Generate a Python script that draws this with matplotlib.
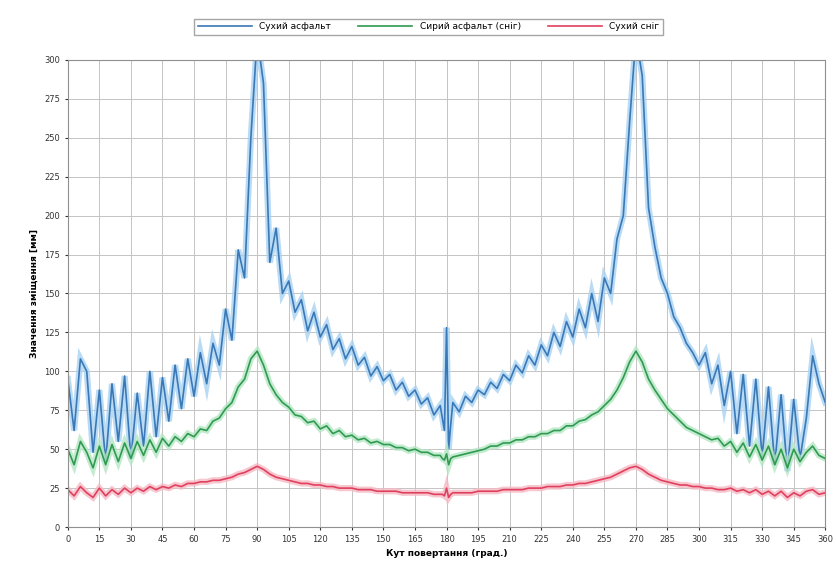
import matplotlib.pyplot as plt

plt.rcParams.update(
    {
        "font.family": "DejaVu Sans",
        "xtick.labelsize": 6,
        "ytick.labelsize": 6,
        "legend.fontsize": 6.5,
    }
)

# angles, deg (denser around the 180 spike)
angles = list(range(0, 178, 3)) + [178, 179, 180, 181, 182, 183] + list(range(186, 361, 3))

# Сухий асфальт (blue)
dry = [
    95, 62, 108, 100, 48, 88, 42, 92, 55, 97,
    44, 86, 52, 100, 58, 96, 68, 104, 76, 108,
    84, 112, 92, 118, 104, 140, 120, 178, 160, 250,
    315, 285, 170, 192, 150, 158, 138, 146, 126, 138,
    122, 130, 114, 121, 108, 116, 104, 109, 97, 103,
    94, 98, 88, 93, 84, 88, 79, 83, 72, 78,
    70, 62, 128, 50, 66, 80,
    74, 84, 80, 88, 85, 93, 89, 98, 94, 104,
    99, 110, 104, 117, 110, 125, 116, 132, 122, 140,
    128, 150, 132, 160, 150, 185, 200, 260, 315, 290,
    205, 180, 160, 150, 135, 128, 118, 112, 104, 112,
    92, 104, 78, 100, 60, 98, 52, 95, 45, 90,
    40, 85, 36, 82, 44, 70, 110, 92, 80,
]

# Сирий асфальт (green)
wet = [
    50, 40, 55, 48, 38, 52, 40, 53, 42, 54,
    44, 55, 46, 56, 48, 57, 52, 58, 55, 60,
    58, 63, 62, 68, 70, 76, 80, 90, 95, 108,
    113, 104, 92, 85, 80, 77, 72, 71, 67, 68,
    63, 65, 60, 62, 58, 59, 56, 57, 54, 55,
    53, 53, 51, 51, 49, 50, 48, 48, 46, 46,
    44, 43, 47, 40, 44, 45,
    46, 47, 48, 49, 50, 52, 52, 54, 54, 56,
    56, 58, 58, 60, 60, 62, 62, 65, 65, 68,
    69, 72, 74, 78, 82, 88, 96, 106, 113, 106,
    95, 88, 82, 76, 72, 68, 64, 62, 60, 58,
    56, 57, 52, 55, 48, 54, 45, 53, 43, 52,
    40, 50, 38, 50, 42, 48, 52, 46, 44,
]

# Сухий сніг (red)
snow = [
    24, 20, 26, 22, 19, 25, 20, 24, 21, 25,
    22, 25, 23, 26, 24, 26, 25, 27, 26, 28,
    28, 29, 29, 30, 30, 31, 32, 34, 35, 37,
    39, 37, 34, 32, 31, 30, 29, 28, 28, 27,
    27, 26, 26, 25, 25, 25, 24, 24, 24, 23,
    23, 23, 23, 22, 22, 22, 22, 22, 21, 21,
    21, 20, 25, 19, 21, 22,
    22, 22, 22, 23, 23, 23, 23, 24, 24, 24,
    24, 25, 25, 25, 26, 26, 26, 27, 27, 28,
    28, 29, 30, 31, 32, 34, 36, 38, 39, 37,
    34, 32, 30, 29, 28, 27, 27, 26, 26, 25,
    25, 24, 24, 25, 23, 24, 22, 24, 21, 23,
    20, 23, 19, 22, 20, 23, 24, 21, 22,
]

labels = ["Сухий асфальт", "Сирий асфальт (сніг)", "Сухий сніг"]
x_ticks = list(range(0, 361, 15))
y_ticks = list(range(0, 301, 25))

fig = plt.figure(figsize=(8.37, 5.71), dpi=100)
ax = fig.add_axes([0.081, 0.077, 0.905, 0.818])

series = [
    (dry, "#a9d2f2", "#3a78b8"),
    (wet, "#b4e6c4", "#2f9a50"),
    (snow, "#f6b9c4", "#e0405e"),
]
for (vals, halo, col), lab in zip(series, labels):
    ax.plot(angles, vals, color=halo, lw=4.5, alpha=0.8, solid_joinstyle="miter")
    ax.plot(angles, vals, color=col, lw=1.2, label=lab)

ax.set_xlim(0, 360)
ax.set_ylim(0, 300)
ax.set_xticks(x_ticks)
ax.set_yticks(y_ticks)
ax.grid(True, color="#c4c4c4", lw=0.7)
ax.set_axisbelow(True)
for s in ax.spines.values():
    s.set_color("#909090")
ax.tick_params(length=2, colors="#333333")

ax.set_xlabel("Кут повертання (град.)", fontsize=6.5, fontweight="bold")
ax.set_ylabel("Значення зміщення [мм]", fontsize=6.5, fontweight="bold")

fig.legend(
    loc="upper center",
    bbox_to_anchor=(0.512, 0.975),
    ncol=3,
    frameon=True,
    fancybox=False,
    edgecolor="#909090",
    handlelength=6,
    columnspacing=3,
)

fig.savefig("out.png", dpi=100)
